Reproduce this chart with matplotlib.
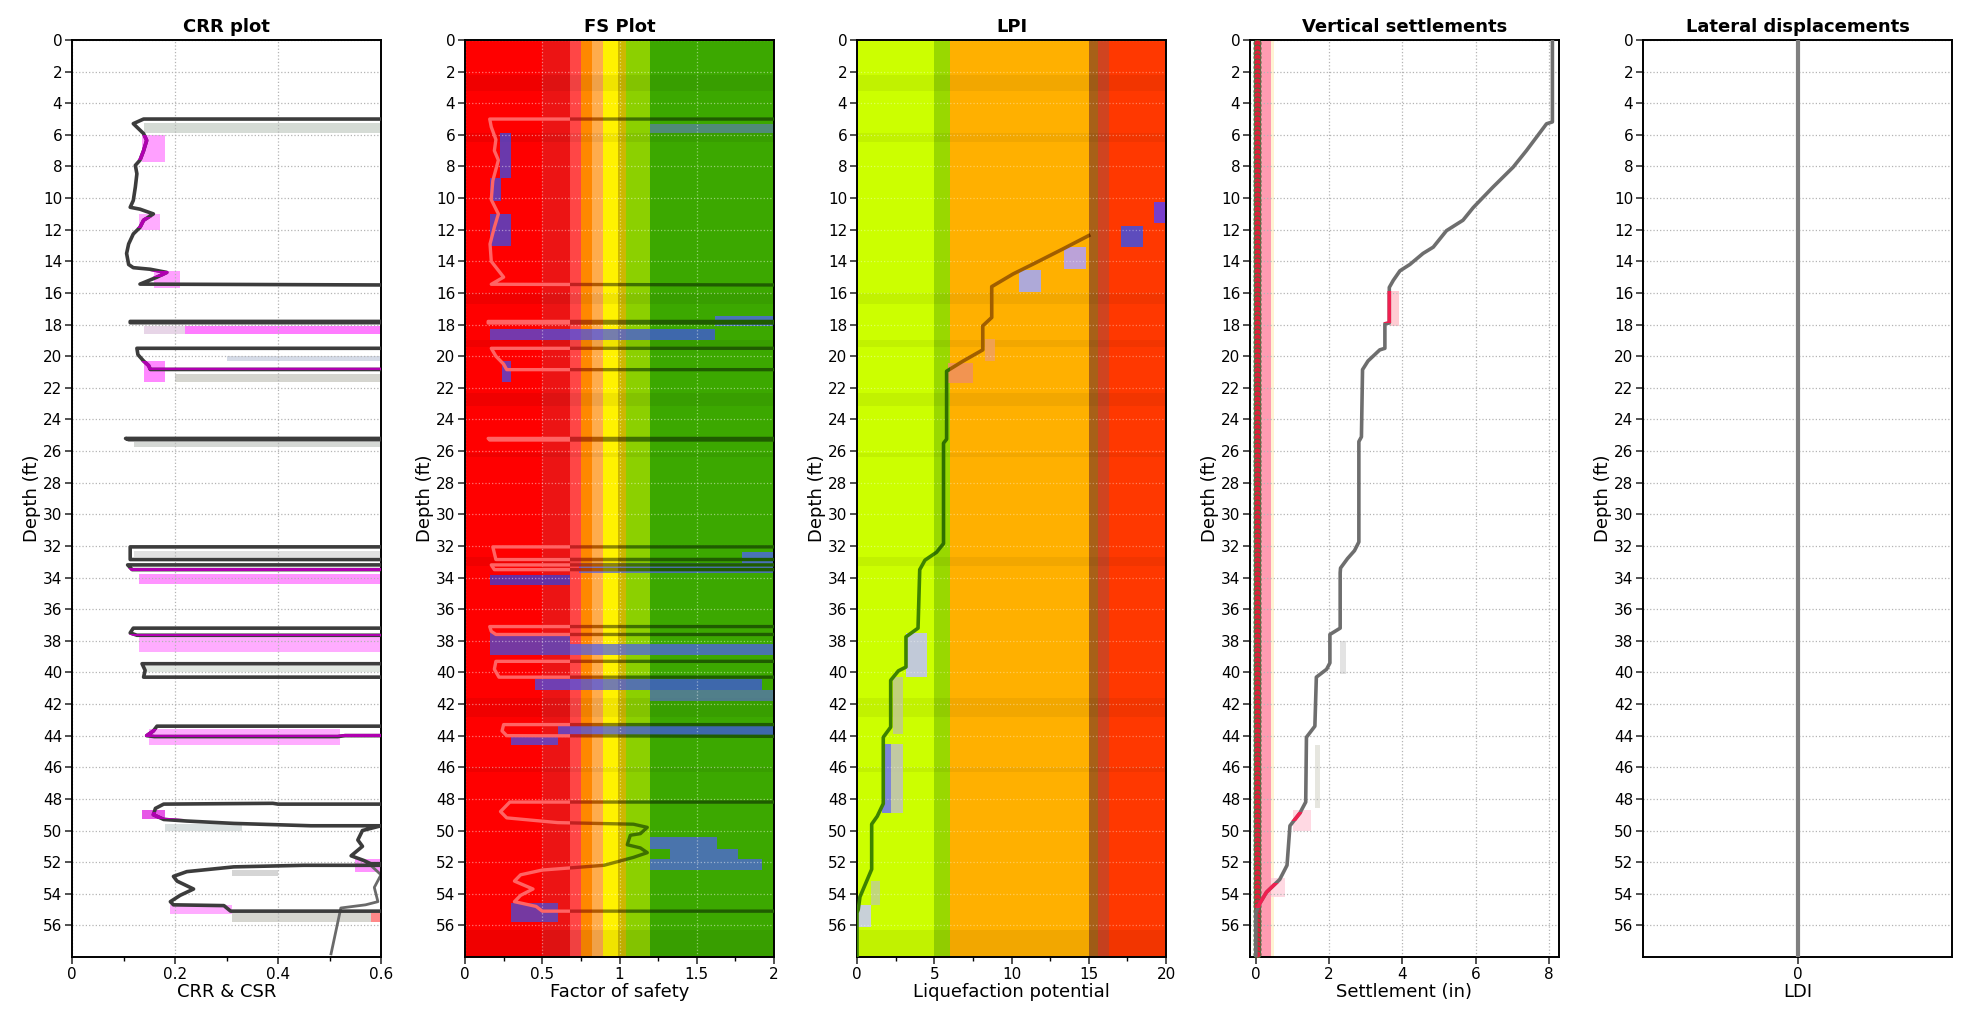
import numpy as np
import matplotlib.pyplot as plt
from matplotlib.patches import Rectangle

plt.rcParams['font.family'] = ['DejaVu Sans']

DMAX = 58

# ---------------- CRR plot data ----------------
crr_depth = [5.0, 5.0, 5.29, 5.92, 6.35, 7.0, 7.6, 7.93, 8.46, 9.3, 10.15, 10.58, 10.7, 11.0,
             11.4, 11.85, 12.27, 12.9, 13.5, 14.2, 14.4, 14.5, 14.7, 15.0, 15.44, 15.5,
             17.8, 17.8, 17.88, 17.88,
             19.5, 19.5, 19.9, 20.3, 20.6, 20.84, 20.84,
             25.2, 25.2, 25.28, 25.28,
             32.06, 32.06, 32.86, 32.86,
             33.2, 33.2, 33.5, 33.5,
             37.2, 37.2, 37.5, 37.65, 37.65,
             39.45, 39.45, 39.87, 40.3, 40.3,
             43.4, 43.4, 43.7, 44.0, 44.06, 44.06, 44.0, 44.0,
             48.33, 48.33, 48.28, 48.33, 48.6, 49.0, 49.3, 49.4, 49.55, 49.7, 49.7,
             50.0, 50.6, 51.0, 51.6, 51.9, 52.1, 52.1,
             52.2, 52.2, 52.3, 52.6, 52.9, 53.2, 53.7, 54.1, 54.5, 54.7, 54.75, 55.1, 55.1]
crr_value = [0.65, 0.139, 0.119, 0.139, 0.145, 0.139, 0.132, 0.123, 0.126, 0.123, 0.119, 0.113, 0.132, 0.158,
             0.139, 0.132, 0.119, 0.110, 0.106, 0.110, 0.119, 0.152, 0.184, 0.165, 0.132, 0.65,
             0.65, 0.113, 0.113, 0.65,
             0.65, 0.126, 0.128, 0.139, 0.149, 0.152, 0.65,
             0.65, 0.104, 0.110, 0.65,
             0.65, 0.113, 0.113, 0.65,
             0.65, 0.108, 0.117, 0.65,
             0.65, 0.119, 0.113, 0.126, 0.65,
             0.65, 0.136, 0.142, 0.139, 0.65,
             0.65, 0.165, 0.158, 0.145, 0.160, 0.516, 0.53, 0.65,
             0.65, 0.40, 0.39, 0.178, 0.162, 0.158, 0.178, 0.223, 0.314, 0.464, 0.60,
             0.564, 0.555, 0.564, 0.542, 0.567, 0.58, 0.65,
             0.65, 0.45, 0.314, 0.223, 0.197, 0.204, 0.236, 0.21, 0.191, 0.197, 0.295, 0.308, 0.65]
csr_depth = [52.2, 52.8, 53.6, 54.5, 54.7, 54.9, 57.8]
csr_value = [0.58, 0.60, 0.587, 0.594, 0.57, 0.522, 0.503]
crr_magenta = [(6.0, 7.6), (11.2, 11.9), (14.6, 15.0), (20.3, 20.9), (33.4, 33.6),
               (37.6, 37.7), (43.6, 44.1), (48.8, 49.3)]
# ghost smears left in the capture (depth top, depth bottom, x0, x1, colour)
crr_ghosts = [(6.0, 7.7, 0.135, 0.18, '#ff80ff'), (11.0, 12.0, 0.13, 0.17, '#ff90ff'),
              (14.6, 15.7, 0.16, 0.21, '#ff80ff'), (18.1, 18.6, 0.14, 0.22, '#e0c8e0'),
              (18.1, 18.6, 0.22, 0.60, '#ff50ff'), (20.3, 21.6, 0.14, 0.18, '#ff60ff'),
              (33.8, 34.4, 0.13, 0.60, '#ff70ff'), (37.6, 38.7, 0.13, 0.60, '#ff90ff'),
              (43.6, 44.6, 0.15, 0.52, '#ff90ff'), (48.7, 49.3, 0.135, 0.18, '#e020e0'),
              (54.7, 55.3, 0.19, 0.31, '#ff90ff'), (51.8, 52.6, 0.55, 0.60, '#ff70ff'),
              (55.2, 55.8, 0.58, 0.60, '#ff6060'),
              (5.25, 5.9, 0.14, 0.60, '#c8d0c8'), (20.0, 20.3, 0.30, 0.60, '#c8d0e0'),
              (21.1, 21.6, 0.20, 0.60, '#c8c8c0'), (25.4, 25.75, 0.12, 0.60, '#c8ccc8'),
              (32.3, 32.7, 0.12, 0.60, '#d8d8d8'), (39.6, 40.0, 0.14, 0.60, '#d8e0d8'),
              (49.6, 50.0, 0.18, 0.33, '#d0d8d8'), (52.5, 52.9, 0.31, 0.40, '#c8c8c8'),
              (55.2, 55.8, 0.31, 0.58, '#c8c8c0')]

# ---------------- FS plot data ----------------
fs_depth = [5.0, 5.0, 5.5, 6.3, 7.0, 7.6, 8.9, 10.1, 11.0, 11.85, 12.9, 14.0, 15.0, 15.45, 15.5,
            17.8, 17.8, 17.9, 17.9,
            19.5, 19.5, 20.0, 20.5, 20.85, 20.85,
            25.2, 25.2, 25.3, 25.3,
            32.06, 32.06, 32.86, 32.86,
            33.2, 33.2, 33.5, 33.5,
            37.1, 37.1, 37.4, 37.6, 37.6,
            39.3, 39.3, 39.8, 40.3, 40.3,
            43.3, 43.3, 43.7, 44.0, 44.05,
            48.2, 48.2, 48.8, 49.2, 49.5, 49.6, 49.8, 50.2, 50.3, 50.9, 51.1, 51.4, 51.7,
            52.2, 52.5, 52.8, 53.2, 53.7, 54.1, 54.5, 54.8, 55.1, 55.1]
fs_value = [2.2, 0.16, 0.17, 0.20, 0.19, 0.216, 0.18, 0.17, 0.216, 0.19, 0.162, 0.17, 0.25, 0.17, 2.2,
            2.2, 0.15, 0.15, 2.2,
            2.2, 0.17, 0.20, 0.25, 0.27, 2.2,
            2.2, 0.15, 0.16, 2.2,
            2.2, 0.18, 0.20, 2.2,
            2.2, 0.17, 0.19, 2.2,
            2.2, 0.16, 0.17, 0.20, 2.2,
            2.2, 0.20, 0.19, 0.22, 2.2,
            2.2, 0.25, 0.24, 0.27, 2.2,
            2.2, 0.29, 0.23, 0.27, 0.60, 1.09, 1.18, 1.135, 1.07, 1.05, 1.135, 1.18, 1.09,
            0.90, 0.50, 0.36, 0.32, 0.44, 0.36, 0.32, 0.46, 0.50, 2.2]
# FS colour zones: x0, x1, fill, line colour inside the zone
fs_bands = [(0.0, 0.50, '#ff0000', '#ff6464'), (0.50, 0.68, '#ec1414', '#ff6464'),
            (0.68, 0.75, '#ff4646', '#c02020'), (0.75, 0.82, '#ff8800', '#b04000'),
            (0.82, 0.89, '#ffac4c', '#b05800'), (0.89, 0.99, '#fff200', '#8c8400'),
            (0.99, 1.04, '#cdb800', '#706000'), (1.04, 1.20, '#8cd000', '#3e7000'),
            (1.20, 2.00, '#3ca800', '#1f5c00')]
fs_ghosts = [(5.9, 8.7, 0.227, 0.30, '#3050f0'), (8.7, 10.2, 0.16, 0.23, '#3050f0'),
             (11.0, 13.0, 0.16, 0.30, '#3050f0'), (5.3, 5.9, 1.2, 2.0, '#5a80a8'),
             (17.45, 18.1, 1.62, 2.0, '#5060ff'), (18.3, 19.0, 0.16, 1.62, '#4050f0'),
             (20.3, 21.6, 0.24, 0.30, '#4050f0'), (32.4, 33.1, 1.79, 2.0, '#5060ff'),
             (33.1, 33.7, 0.74, 2.0, '#5060f0'), (33.85, 34.5, 0.16, 0.68, '#3040e0'),
             (37.5, 38.9, 0.16, 0.68, '#4050e0'), (38.2, 38.9, 0.68, 2.0, '#5060f0'),
             (40.4, 41.1, 0.45, 1.92, '#4050f0'), (41.1, 41.8, 1.2, 2.0, '#5a70c0'),
             (43.3, 44.0, 0.6, 2.0, '#4050f0'), (44.0, 44.6, 0.3, 0.6, '#4050f0'),
             (50.4, 51.2, 1.2, 1.63, '#5060f0'), (51.2, 51.8, 1.33, 1.77, '#5060f0'),
             (51.8, 52.5, 1.2, 1.92, '#5060f0'), (54.6, 55.8, 0.3, 0.6, '#4050e0')]
# darker horizontal stripes in the coloured panels
stripes = [(2.2, 3.2), (5.9, 6.45), (16.0, 16.7), (19.0, 19.4), (22.3, 23.15), (26.1, 26.4),
           (32.7, 33.3), (41.6, 42.8), (46.0, 46.3), (56.3, 58.0)]

# ---------------- LPI data ----------------
lpi_depth = [12.37, 13.2, 14.17, 14.8, 15.6, 17.55, 18.08, 19.6, 20.3, 20.95, 25.25, 25.5,
             31.85, 32.4, 32.9, 33.5, 37.2, 37.75, 39.66, 39.9, 40.5, 43.46, 44.1, 48.3,
             49.1, 49.6, 52.45, 54.2, 55.0, 55.2, 58.0]
lpi_value = [15.0, 13.36, 11.4, 10.1, 8.72, 8.72, 8.14, 8.14, 6.88, 5.8, 5.8, 5.6,
             5.6, 5.15, 4.4, 4.06, 3.95, 3.17, 3.17, 2.68, 2.18, 2.18, 1.70, 1.70,
             1.31, 0.95, 0.95, 0.19, 0.08, 0.0, 0.0]
lpi_bands = [(0, 5, '#ccff00', '#3d8200'), (5, 6, '#99d800', '#2f7000'),
             (6, 15, '#ffb000', '#a05e00'), (15, 15.6, '#a86018', '#6a3000'),
             (15.6, 16.3, '#d04420', '#902000'), (16.3, 20, '#ff3800', '#a82000')]
lpi_ghosts = [(10.26, 11.6, 19.2, 20.0, '#6040f0'), (11.74, 13.07, 17.1, 18.5, '#4050e0'),
              (13.07, 14.5, 13.4, 14.8, '#b0a0ff'), (14.55, 15.97, 10.5, 11.9, '#a0a8ff'),
              (20.4, 21.7, 5.9, 7.5, '#f09060'), (18.9, 20.3, 8.3, 8.9, '#f0a060'),
              (37.5, 40.3, 3.2, 4.5, '#c0c0ff'), (40.3, 43.9, 2.3, 3.0, '#c0c890'),
              (44.5, 48.9, 1.6, 2.2, '#7070ff'), (44.5, 48.9, 2.2, 3.0, '#c0c0c0'),
              (54.7, 56.1, 0.0, 0.9, '#c8c8ff'), (53.2, 54.7, 0.9, 1.5, '#c0d090')]

# ---------------- Vertical settlements ----------------
set_depth = [0, 5.18, 5.3, 7.0, 8.04, 9.3, 10.6, 11.4, 12.06, 13.1, 13.5, 14.2, 14.6, 15.2, 15.65,
             17.9, 17.95, 19.5, 19.6, 20.3, 20.85, 25.1, 25.4, 31.75, 32.3, 32.8, 33.4, 33.7,
             37.2, 37.6, 39.4, 39.8, 40.3, 43.4, 44.1, 48.2, 48.9, 49.7, 52.2, 53.1, 53.9,
             54.6, 55.2, 58.0]
set_value = [8.09, 8.09, 7.93, 7.38, 7.02, 6.47, 5.93, 5.65, 5.2, 4.84, 4.56, 4.2, 3.93, 3.75, 3.64,
             3.64, 3.52, 3.52, 3.38, 3.06, 2.91, 2.88, 2.81, 2.81, 2.69, 2.5, 2.31, 2.3,
             2.3, 2.02, 2.02, 1.93, 1.65, 1.61, 1.38, 1.36, 1.2, 0.93, 0.85, 0.65, 0.29,
             0.11, 0.0, 0.0]
set_red = [(15.9, 17.9), (48.8, 49.4), (53.3, 54.9)]
set_ghosts = [(15.9, 18.1, 3.66, 3.9, '#ffc0c8'), (38.0, 40.1, 2.3, 2.45, '#dcdcdc'),
              (44.6, 48.6, 1.6, 1.75, '#e0e0d8'), (48.7, 50.0, 1.0, 1.5, '#ffd0dc'),
              (53.0, 54.2, 0.4, 0.8, '#ffd0dc')]
marker_depth = np.arange(0.2, 57.9, 0.3)

# ---------------- Lateral displacements ----------------
ldi_depth = [0, 58]
ldi_value = [0, 0]

# ---------------- figure ----------------
W, H = 1961, 1016
fig = plt.figure(figsize=(W / 100, H / 100), dpi=100)
lefts = [72, 465, 857, 1250, 1643]
axes = [fig.add_axes([l / W, 1 - 957 / H, 309 / W, (957 - 40) / H]) for l in lefts]


def setup(ax, title, xlabel, xlim, xticks, xlabels, minor=None, gcolor='#b4b4b4', galpha=1.0,
          vgrid=True):
    ax.set_ylim(DMAX, 0)
    ax.set_xlim(*xlim)
    ax.set_yticks(np.arange(0, 57, 2))
    ax.set_xticks(xticks)
    ax.set_xticklabels(xlabels)
    if minor is not None:
        ax.set_xticks(minor, minor=True)
    ax.tick_params(direction='out', length=5, width=1.1, labelsize=11, pad=2, color='#222222')
    ax.tick_params(axis='x', which='minor', length=3, width=1)
    for s in ax.spines.values():
        s.set_linewidth(1.4)
    ax.set_title(title, fontsize=13, fontweight='bold', pad=6)
    ax.set_xlabel(xlabel, fontsize=13, labelpad=1)
    ax.set_ylabel('Depth (ft)', fontsize=13, labelpad=1)
    ax.set_axisbelow('line')
    ax.grid(True, axis='y', linestyle=':', color=gcolor, alpha=galpha, lw=0.9)
    if vgrid:
        ax.grid(True, axis='x', linestyle=':', color=gcolor, alpha=galpha, lw=0.9)


def ghosts(ax, items, alpha=0.8):
    for d0, d1, x0, x1, c in items:
        ax.add_patch(Rectangle((x0, d0), x1 - x0, d1 - d0, facecolor=c, edgecolor='none',
                               alpha=alpha, zorder=1.2))


def clipped_line(ax, x, y, color, lw, x0, x1, d0, d1, z=3):
    ln, = ax.plot(x, y, color=color, lw=lw, zorder=z)
    ln.set_clip_path(Rectangle((x0, d0), x1 - x0, d1 - d0, transform=ax.transData))


# CRR plot
ax = axes[0]
setup(ax, 'CRR plot', 'CRR & CSR', (0, 0.6), [0, 0.2, 0.4, 0.6], ['0', '0.2', '0.4', '0.6'],
      minor=[0.1, 0.3, 0.5])
ghosts(ax, crr_ghosts, alpha=0.75)
ax.plot(csr_value, csr_depth, color='#6a6a6a', lw=2, zorder=2.5)
ax.plot(crr_value, crr_depth, color='#3c3c3c', lw=2.6, zorder=3)
for d0, d1 in crr_magenta:
    clipped_line(ax, crr_value, crr_depth, '#b000b0', 2.6, 0, 0.6, d0, d1, z=3.5)

# FS plot
ax = axes[1]
setup(ax, 'FS Plot', 'Factor of safety', (0, 2), [0, 0.5, 1, 1.5, 2], ['0', '0.5', '1', '1.5', '2'],
      minor=[0.25, 0.75, 1.25, 1.75], gcolor='white', galpha=0.45)
for x0, x1, fc, lc in fs_bands:
    ax.axvspan(x0, x1, color=fc, lw=0, zorder=0.8)
for d0, d1 in stripes:
    ax.axhspan(d0, d1, color='black', alpha=0.06, lw=0, zorder=0.9)
ghosts(ax, fs_ghosts, alpha=0.72)
for x0, x1, fc, lc in fs_bands:
    clipped_line(ax, fs_value, fs_depth, lc, 2.4, x0, x1, 0, DMAX)

# LPI
ax = axes[2]
setup(ax, 'LPI', 'Liquefaction potential', (0, 20), [0, 5, 10, 15, 20], ['0', '5', '10', '15', '20'],
      minor=[2.5, 7.5, 12.5, 17.5], gcolor='white', galpha=0.35, vgrid=False)
for x0, x1, fc, lc in lpi_bands:
    ax.axvspan(x0, x1, color=fc, lw=0, zorder=0.8)
for d0, d1 in stripes:
    ax.axhspan(d0, d1, color='black', alpha=0.05, lw=0, zorder=0.9)
ghosts(ax, lpi_ghosts, alpha=0.85)
for x0, x1, fc, lc in lpi_bands:
    clipped_line(ax, lpi_value, lpi_depth, lc, 2.6, x0, x1, 0, DMAX)

# Vertical settlements
ax = axes[3]
setup(ax, 'Vertical settlements', 'Settlement (in)', (-0.16, 8.27), [0, 2, 4, 6, 8],
      ['0', '2', '4', '6', '8'])
ax.axvspan(0.1, 0.42, color='#ff8aa4', alpha=0.85, lw=0, zorder=1)
ax.axvspan(0.42, 0.5, color='#fff0c8', alpha=0.8, lw=0, zorder=1)
ghosts(ax, set_ghosts, alpha=0.8)
ax.scatter(np.zeros_like(marker_depth) + 0.03, marker_depth, s=26, facecolor='#e0203c',
           edgecolor='#3c7840', linewidths=0.7, zorder=2.6)
ax.plot(set_value, set_depth, color='#6e6e6e', lw=2.6, zorder=3)
for d0, d1 in set_red:
    clipped_line(ax, set_value, set_depth, '#f02050', 2.6, -0.2, 8.3, d0, d1, z=3.5)

# Lateral displacements
ax = axes[4]
setup(ax, 'Lateral displacements', 'LDI', (-1, 1), [0], ['0'], vgrid=False)
ax.plot(ldi_value, ldi_depth, color='#808080', lw=3, zorder=3)

fig.savefig('out.png', dpi=100)
